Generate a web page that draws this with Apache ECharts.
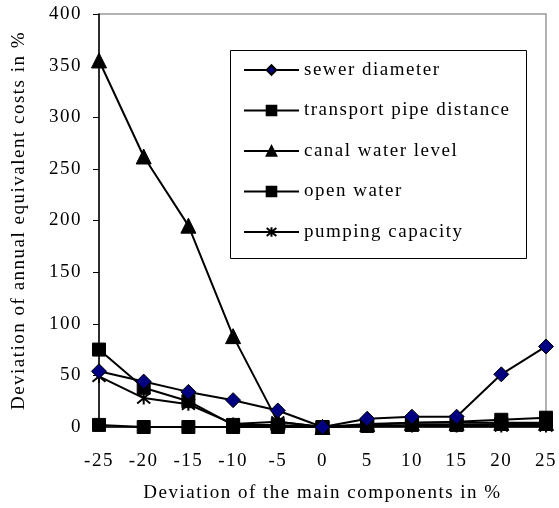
<!DOCTYPE html>
<html>
<head>
<meta charset="utf-8">
<script src="https://cdn.jsdelivr.net/npm/echarts@6/dist/echarts.min.js"></script>
<style>
  html, body { margin: 0; padding: 0; background: #fff; }
  #chart { width: 559px; height: 508px; }
</style>
</head>
<body>
<div id="chart"></div>
<script>
// Slightly open tracking for every label drawn on the canvas
(function () {
  const proto = CanvasRenderingContext2D.prototype;
  const fill = proto.fillText;
  proto.fillText = function (text, x, y, maxWidth) {
    if ('letterSpacing' in this) this.letterSpacing = '1.5px';
    return maxWidth === undefined ? fill.call(this, text, x, y) : fill.call(this, text, x, y, maxWidth);
  };
})();

// Deviation of the main components (%)
const deviations = [-25, -20, -15, -10, -5, 0, 5, 10, 15, 20, 25];

// Deviation of annual equivalent costs (%) per component
const sewerDiameter      = [54, 44, 34, 26, 16, 0, 8, 10, 10, 51, 78];
const transportPipe      = [2, 0, 0, 0, 0, 0, 1, 2, 2, 3, 3];
const canalWaterLevel    = [355, 262, 195, 88, 5, 0, 3, 4, 4, 4, 4];
const openWater          = [75, 38, 25, 2, 2, 0, 2, 4, 5, 7, 9];
const pumpingCapacity    = [49, 28, 22, 3, 5, 0, 1, 1, 1, 1, 1];

const yTicks = [0, 50, 100, 150, 200, 250, 300, 350, 400];

const FONT = '"Liberation Serif", "DejaVu Serif", serif';
const FS = 19;
const ASTERISK = 'path://M0,0L10,10M0,10L10,0M5,-1L5,11';

function pairs(values) {
  return deviations.map((x, i) => [x, values[i]]);
}

function lineSeries(name, values, symbol, size, fill) {
  return {
    name: name,
    type: 'line',
    data: pairs(values),
    symbol: symbol,
    symbolSize: size,
    showAllSymbol: true,
    lineStyle: { color: '#000', width: 2 },
    itemStyle: { color: fill, borderColor: '#000', borderWidth: symbol === ASTERISK ? 2 : 1 },
    emphasis: { disabled: true },
    animation: false
  };
}

const chart = echarts.init(document.getElementById('chart'), null, { renderer: 'canvas' });

chart.setOption({
  animation: false,
  textStyle: { fontFamily: FONT },
  grid: {
    left: 99, right: 13, top: 14, bottom: 79,
    show: true, borderColor: '#999', borderWidth: 1.5
  },
  xAxis: {
    type: 'value',
    min: -25, max: 25, interval: 5,
    name: 'Deviation of the main components in %',
    nameLocation: 'middle',
    nameGap: 57,
    nameTextStyle: { fontFamily: FONT, fontSize: FS, color: '#000' },
    axisLine: { show: true, onZero: false, lineStyle: { color: '#000', width: 1.5 } },
    axisTick: { show: true, inside: false, length: 5, lineStyle: { color: '#000' } },
    axisLabel: { fontFamily: FONT, fontSize: FS, color: '#000', margin: 25 },
    splitLine: { show: false }
  },
  yAxis: {
    type: 'value',
    min: 0, max: 400, interval: 50,
    name: 'Deviation of annual equivalent costs in %',
    nameLocation: 'middle',
    nameGap: 70,
    nameTextStyle: { fontFamily: FONT, fontSize: FS, color: '#000' },
    axisLine: { show: true, onZero: false, lineStyle: { color: '#000', width: 1.5 } },
    axisTick: { show: true, inside: false, length: 6, lineStyle: { color: '#000' } },
    axisLabel: {
      fontFamily: FONT, fontSize: FS, color: '#000', margin: 17,
      formatter: v => (yTicks.includes(v) ? String(v) : '')
    },
    splitLine: { show: false }
  },
  legend: {
    orient: 'vertical',
    left: 243, top: 60,
    padding: 0,
    itemWidth: 55, itemHeight: 12, itemGap: 20.5,
    textStyle: { fontFamily: FONT, fontSize: FS, lineHeight: 20, color: '#000' },
    selectedMode: false,
    data: ['sewer diameter', 'transport pipe distance', 'canal water level', 'open water', 'pumping capacity']
  },
  graphic: [{
    type: 'rect',
    shape: { x: 230.5, y: 50.5, width: 296, height: 208 },
    style: { fill: '#fff', stroke: '#000', lineWidth: 1 },
    z: 0, zlevel: 0
  }],
  series: [
    lineSeries('transport pipe distance', transportPipe, 'rect', 13, '#000'),
    lineSeries('canal water level', canalWaterLevel, 'triangle', 15, '#000'),
    lineSeries('open water', openWater, 'rect', 13, '#000'),
    lineSeries('pumping capacity', pumpingCapacity, ASTERISK, 13, 'none'),
    lineSeries('sewer diameter', sewerDiameter, 'diamond', 15, '#000080')
  ]
});
</script>
</body>
</html>
